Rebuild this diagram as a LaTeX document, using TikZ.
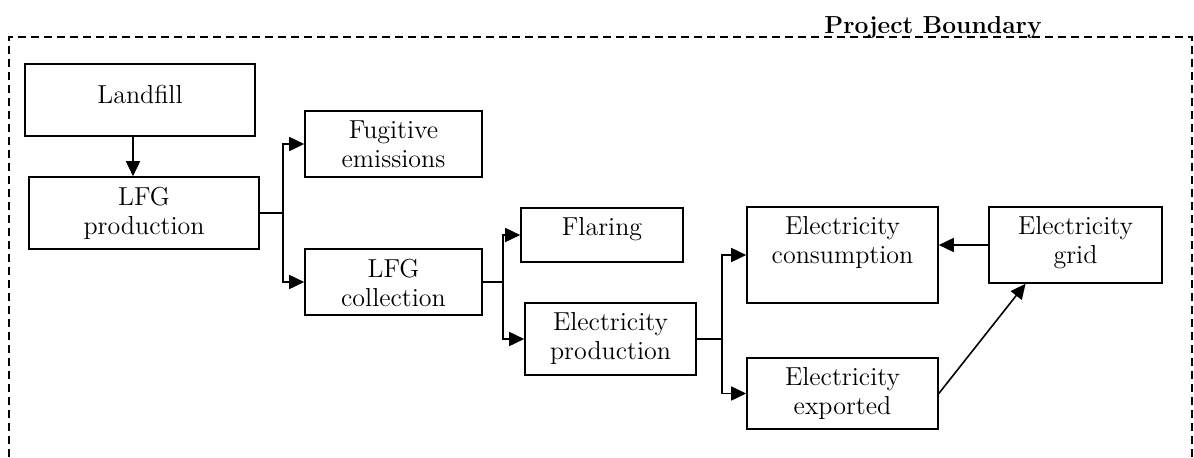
\documentclass[tikz,border=0pt]{standalone}
\usepackage{tikz}
\usetikzlibrary{arrows.meta}

\begin{document}
\begin{tikzpicture}[>={Triangle[length=0.3cm,width=0.28cm]}, line width=0.9pt,
  box/.style={draw, rectangle, inner sep=0pt},
  txt/.style={anchor=north, align=center, inner sep=0pt, yshift=-5.6pt, font=\fontsize{14.8}{16.5}\selectfont}]
\useasboundingbox (0,0) rectangle (23.88,9.14);
\draw[dash pattern=on 0.16cm off 0.10cm, line width=1.1pt] (0.18,0) -- (0.18,8.40) -- (23.84,8.40) -- (23.84,0);
\node[anchor=base, inner sep=0pt, font=\fontsize{14}{16}\selectfont\bfseries] (title) at (18.66,8.48) {Project Boundary};
\node[box, minimum width=4.60cm, minimum height=1.44cm] (landfill) at (2.80,7.14) {};
\node[txt, yshift=-6.7pt] (landfilltxt) at (landfill.north) {Landfill};
\node[box, minimum width=4.60cm, minimum height=1.44cm] (lfgprod) at (2.88,4.88) {};
\node[txt] (lfgprodtxt) at (lfgprod.north) {LFG\\production};
\node[box, minimum width=3.54cm, minimum height=1.32cm] (fugitive) at (7.87,6.26) {};
\node[txt] (fugitivetxt) at (fugitive.north) {Fugitive\\emissions};
\node[box, minimum width=3.54cm, minimum height=1.32cm] (lfgcoll) at (7.87,3.50) {};
\node[txt] (lfgcolltxt) at (lfgcoll.north) {LFG\\collection};
\node[box, minimum width=3.24cm, minimum height=1.08cm] (flaring) at (12.04,4.44) {};
\node[txt] (flaringtxt) at (flaring.north) {Flaring};
\node[box, minimum width=3.42cm, minimum height=1.44cm] (elecprod) at (12.21,2.36) {};
\node[txt] (elecprodtxt) at (elecprod.north) {Electricity\\production};
\node[box, minimum width=3.82cm, minimum height=1.92cm] (consump) at (16.85,4.04) {};
\node[txt] (consumptxt) at (consump.north) {Electricity\\consumption};
\node[box, minimum width=3.82cm, minimum height=1.42cm] (exported) at (16.85,1.27) {};
\node[txt] (exportedtxt) at (exported.north) {Electricity\\exported};
\node[box, minimum width=3.46cm, minimum height=1.52cm] (grid) at (21.51,4.24) {};
\node[txt] (gridtxt) at (grid.north) {Electricity\\grid};
\draw[->] ([xshift=-0.14cm]landfill.south) -- ([xshift=-0.14cm]landfill.south |- lfgprod.north);
\draw[->] (lfgprod.east) -- ++(0.46,0) |- (fugitive.west);
\draw[->] (lfgprod.east) -- ++(0.46,0) |- (lfgcoll.west);
\draw[->] (lfgcoll.east) -- ++(0.40,0) |- (flaring.west);
\draw[->] (lfgcoll.east) -- ++(0.40,0) |- (elecprod.west);
\draw[->] (elecprod.east) -- ++(0.50,0) |- (consump.west);
\draw[->] (elecprod.east) -- ++(0.50,0) |- (exported.west);
\draw[->] (grid.west) -- (grid.west -| consump.east);
\draw[->] (exported.east) -- ([xshift=-1.0cm]grid.south);
\end{tikzpicture}
\end{document}
